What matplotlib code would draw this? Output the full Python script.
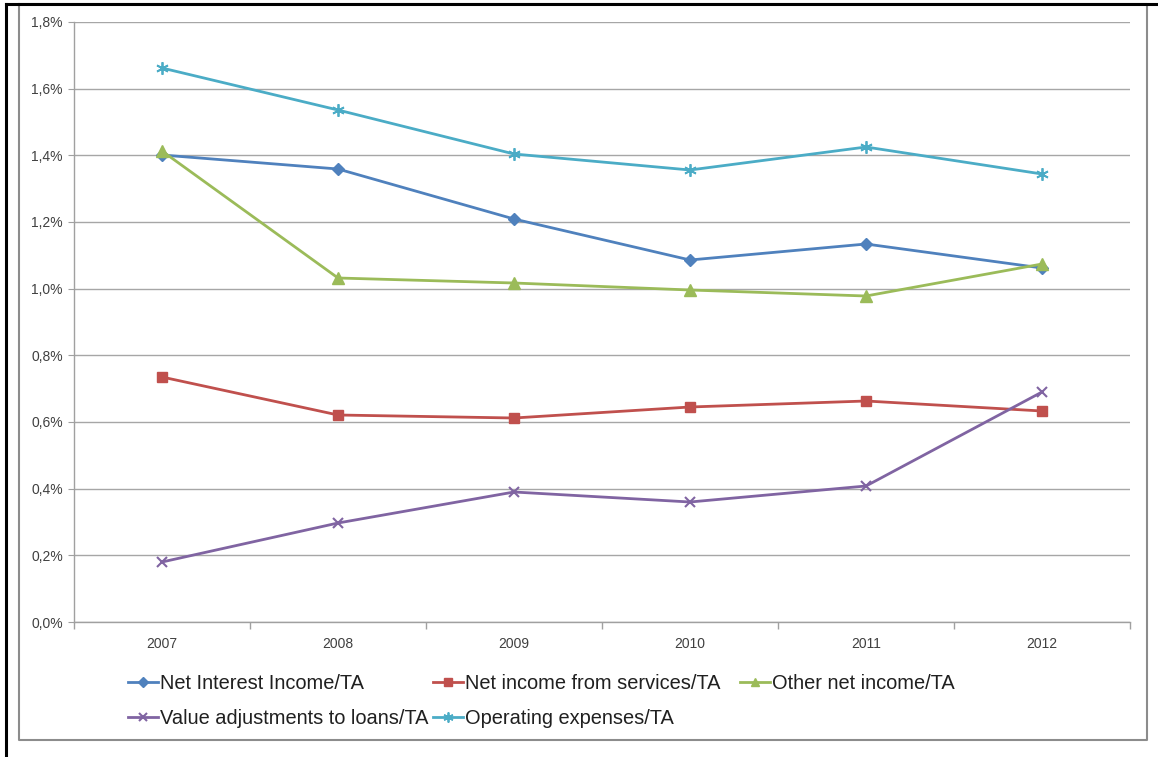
import matplotlib
matplotlib.use("Agg")
import matplotlib.pyplot as plt
from matplotlib.lines import Line2D
from matplotlib.ticker import FuncFormatter, FixedLocator

years = ["2007", "2008", "2009", "2010", "2011", "2012"]

net_interest = [1.401, 1.359, 1.209, 1.086, 1.134, 1.062]
net_services = [0.735, 0.621, 0.612, 0.645, 0.663, 0.633]
other_income = [1.413, 1.032, 1.017, 0.996, 0.978, 1.074]
value_adj = [0.180, 0.297, 0.390, 0.360, 0.408, 0.690]
operating_exp = [1.662, 1.536, 1.404, 1.356, 1.425, 1.344]

labels = ["Net Interest Income/TA", "Net income from services/TA", "Other net income/TA",
          "Value adjustments to loans/TA", "Operating expenses/TA"]

plt.rcParams['font.family'] = ['Liberation Sans', 'DejaVu Sans']

W, H = 1158, 757
fig = plt.figure(figsize=(W / 100, H / 100), dpi=100)
ax = fig.add_axes([74 / W, 1 - 622 / H, (1130 - 74) / W, 600 / H])

x = list(range(len(years)))
lw = 2.0
h1, = ax.plot(x, net_interest, color="#4F81BD", lw=lw, marker="D", ms=6, label=labels[0])
h2, = ax.plot(x, net_services, color="#C0504D", lw=lw, marker="s", ms=7, label=labels[1])
h3, = ax.plot(x, other_income, color="#9BBB59", lw=lw, marker="^", ms=8, label=labels[2])
h4, = ax.plot(x, value_adj, color="#8064A2", lw=lw, marker="x", ms=7, mew=1.5, label=labels[3])
h5, = ax.plot(x, operating_exp, color="#4BACC6", lw=lw, marker=(6, 2, 0), ms=9, mew=1.3, label=labels[4])

ax.set_xlim(-0.5, len(years) - 0.5)
ax.set_ylim(0, 1.8)
ax.set_yticks([i * 0.2 for i in range(10)])
ax.yaxis.set_major_formatter(FuncFormatter(lambda v, p: ("%.1f%%" % v).replace(".", ",")))
ax.set_xticks(x)
ax.set_xticklabels(years)
ax.xaxis.set_minor_locator(FixedLocator([i - 0.5 for i in range(len(years) + 1)]))
ax.tick_params(axis="x", which="major", length=0, pad=11, labelsize=10, colors="#404040")
ax.tick_params(axis="x", which="minor", length=5, color="#A0A0A0", width=1)
ax.tick_params(axis="y", length=4, color="#A0A0A0", labelsize=10, labelcolor="#404040", pad=4)
ax.grid(axis="y", color="#A6A6A6", lw=1)
ax.set_axisbelow(True)
for s in ["top", "right"]:
    ax.spines[s].set_visible(False)
for s in ["left", "bottom"]:
    ax.spines[s].set_color("#A0A0A0")
    ax.spines[s].set_linewidth(1)

# legend, one block per column
columns = [([h1, h4], [labels[0], labels[3]], 128),
           ([h2, h5], [labels[1], labels[4]], 433),
           ([h3], [labels[2]], 740)]
for hs, ls, xpix in columns:
    fig.legend(hs, ls, loc="upper left", bbox_to_anchor=(xpix / W, 1 - 674 / H),
               frameon=False, fontsize=14.4, handlelength=1.5, handletextpad=0.12,
               labelspacing=0.8, borderpad=0, borderaxespad=0, markerscale=0.8,
               labelcolor="#202020")

# outer frame
fig.add_artist(Line2D([19 / W, 1147 / W, 1147 / W, 19 / W, 19 / W],
                      [1 - 4 / H, 1 - 4 / H, 1 - 740 / H, 1 - 740 / H, 1 - 4 / H],
                      color="#8C8C8C", lw=1.5, transform=fig.transFigure))
fig.add_artist(Line2D([5.5 / W, 5.5 / W], [0, 1 - 3.5 / H], color="black", lw=2.2,
                      transform=fig.transFigure))
fig.add_artist(Line2D([5.5 / W, 1], [1 - 3.5 / H, 1 - 3.5 / H], color="black", lw=2.2,
                      transform=fig.transFigure))

fig.savefig("out.png", dpi=100)
